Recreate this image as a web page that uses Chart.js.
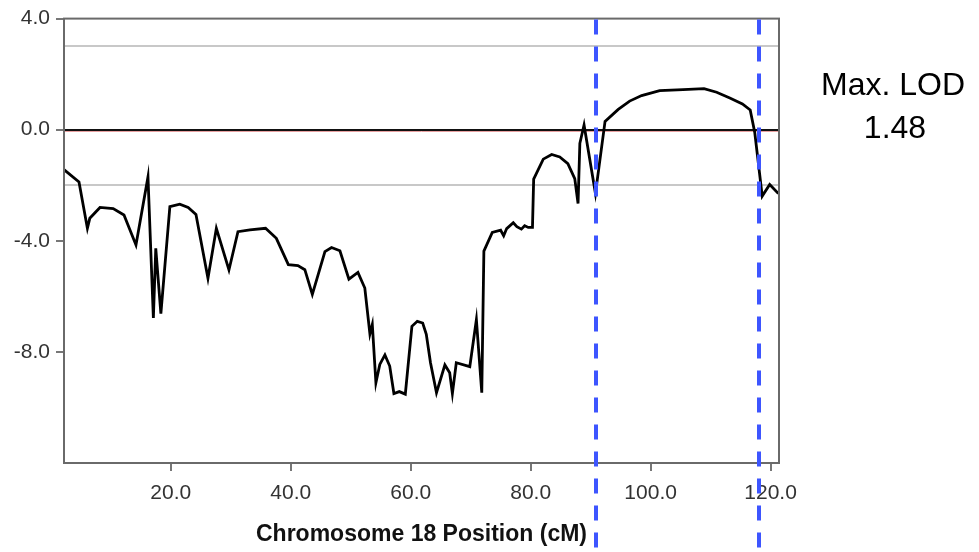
<!DOCTYPE html>
<html>
<head>
<meta charset="utf-8">
<title>Chromosome 18 LOD</title>
<script src="https://cdn.jsdelivr.net/npm/chart.js@4"></script>
<style>
    html, body { margin: 0; padding: 0; background: #fff; }
    #wrap { width: 979px; height: 552px; position: relative; }
</style>
</head>
<body>
<div id="wrap"><canvas id="lodChart"></canvas></div>
<script>
// positions along chromosome 18 (cM) and LOD score at each point
const positions = [
    2.2, 4.7, 6.1, 6.5, 8.2, 10.4, 12.2, 14.2, 16.2, 17.1,
    17.5, 18.35, 19.85, 21.5, 22.9, 24.2, 26.2, 27.6, 29.7, 31.2,
    33.2, 35.8, 37.6, 39.6, 41.2, 42.35, 43.6, 45.7, 46.8, 48.2,
    49.7, 51.2, 52.35, 53.2, 53.6, 54.2, 54.85, 55.7, 56.5, 57.2,
    58.1, 59.1, 60.2, 61.1, 62.0, 62.6, 63.3, 64.3, 65.7, 66.5,
    66.95, 67.6, 69.85, 70.95, 71.85, 72.2, 73.6, 75.0, 75.5, 76.0,
    77.1, 77.7, 78.45, 79.0, 79.6, 80.3, 80.5, 82.1, 83.5, 84.85,
    86.2, 87.35, 87.9, 88.2, 88.9, 90.8, 92.4, 94.6, 96.5, 98.5,
    101.5, 105.4, 108.9, 111.0, 113.2, 115.3, 116.6, 117.35, 118.0, 118.6,
    119.85, 121.3
];
const lodScores = [
    -1.44, -1.88, -3.55, -3.19, -2.80, -2.84, -3.07, -4.15, -1.70, -6.78,
    -4.27, -6.62, -2.77, -2.68, -2.80, -3.05, -5.35, -3.55, -5.05, -3.67,
    -3.61, -3.55, -3.91, -4.86, -4.89, -5.04, -5.93, -4.39, -4.24, -4.36,
    -5.38, -5.14, -5.70, -7.35, -7.01, -9.11, -8.45, -8.11, -8.51, -9.50,
    -9.43, -9.52, -7.08, -6.90, -6.96, -7.37, -8.39, -9.47, -8.47, -8.75,
    -9.50, -8.39, -8.53, -6.84, -9.47, -4.37, -3.70, -3.62, -3.82, -3.56,
    -3.35, -3.49, -3.58, -3.46, -3.52, -3.52, -1.78, -1.06, -0.89, -0.98,
    -1.22, -1.76, -2.66, -0.49, 0.17, -2.30, 0.30, 0.73, 1.03, 1.23,
    1.41, 1.44, 1.48, 1.35, 1.14, 0.93, 0.71, -0.09, -1.28, -2.39,
    -1.97, -2.30
];

const xTickValues = [20, 40, 60, 80, 100, 120];
const yTickValues = [4, 0, -4, -8];
const thresholdLines = [3, -2];
const zeroLine = 0;
const intervalMarkers = [90.9, 118.0];

const FONT = "'Liberation Sans', Arial, sans-serif";

const points = positions.map((p, i) => ({ x: p, y: lodScores[i] }));
const maxLod = Math.max(...lodScores);

const refLinesPlugin = {
    id: 'refLines',
    beforeDatasetsDraw(chart) {
        const { ctx, chartArea, scales } = chart;
        ctx.save();
        ctx.lineWidth = 2;
        ctx.strokeStyle = '#c8c8c8';
        thresholdLines.forEach(v => {
            const y = Math.round(scales.y.getPixelForValue(v));
            ctx.beginPath();
            ctx.moveTo(chartArea.left, y);
            ctx.lineTo(chartArea.right, y);
            ctx.stroke();
        });
        const y0 = Math.round(scales.y.getPixelForValue(zeroLine));
        ctx.strokeStyle = '#e8a0a0';
        ctx.lineWidth = 1;
        ctx.beginPath();
        ctx.moveTo(chartArea.left, y0 + 1.5);
        ctx.lineTo(chartArea.right, y0 + 1.5);
        ctx.stroke();
        ctx.strokeStyle = '#111';
        ctx.lineWidth = 2;
        ctx.beginPath();
        ctx.moveTo(chartArea.left, y0);
        ctx.lineTo(chartArea.right, y0);
        ctx.stroke();
        ctx.restore();
    },
    afterDraw(chart) {
        const { ctx, chartArea, scales } = chart;
        ctx.save();
        // plot box
        ctx.strokeStyle = '#6a6a6a';
        ctx.lineWidth = 2;
        ctx.strokeRect(chartArea.left, chartArea.top, chartArea.right - chartArea.left, chartArea.bottom - chartArea.top);

        // support interval markers, running down past the axis
        ctx.strokeStyle = '#3d55ff';
        ctx.lineWidth = 4;
        ctx.setLineDash([15, 12]);
        intervalMarkers.forEach(v => {
            const x = Math.round(scales.x.getPixelForValue(v));
            ctx.beginPath();
            ctx.moveTo(x, chartArea.top + 1);
            ctx.lineTo(x, chart.height);
            ctx.stroke();
        });
        ctx.setLineDash([]);

        // peak label
        ctx.fillStyle = '#000';
        ctx.font = '32px ' + FONT;
        ctx.textAlign = 'center';
        ctx.textBaseline = 'middle';
        ctx.fillText('Max. LOD', 893, 86);
        ctx.fillText(maxLod.toFixed(2), 895, 129);
        ctx.restore();
    }
};

new Chart(document.getElementById('lodChart'), {
    type: 'line',
    data: {
        datasets: [{
            data: points,
            borderColor: '#000',
            borderWidth: 2.8,
            pointRadius: 0,
            tension: 0,
            fill: false
        }]
    },
    options: {
        responsive: true,
        maintainAspectRatio: false,
        animation: false,
        layout: { padding: { top: 16, right: 200, left: 0, bottom: 0 } },
        plugins: {
            legend: { display: false },
            tooltip: { enabled: false }
        },
        scales: {
            x: {
                type: 'linear',
                min: 2.2,
                max: 121.4,
                afterBuildTicks: scale => { scale.ticks = xTickValues.map(v => ({ value: v })); },
                afterFit: scale => { scale.height = 89; },
                border: { display: false },
                grid: { drawOnChartArea: false, drawTicks: true, tickLength: 8, color: '#777', lineWidth: 2 },
                ticks: {
                    padding: 10,
                    color: '#333',
                    font: { family: FONT, size: 21 },
                    maxRotation: 0,
                    callback: v => Number(v).toFixed(1)
                },
                title: {
                    display: true,
                    text: 'Chromosome 18 Position (cM)',
                    color: '#111',
                    font: { family: FONT, size: 23, weight: 'bold' },
                    padding: { top: 0, bottom: 4 }
                }
            },
            y: {
                min: -12,
                max: 4,
                afterBuildTicks: scale => { scale.ticks = yTickValues.map(v => ({ value: v })); },
                afterFit: scale => { scale.width = 64; },
                border: { display: false },
                grid: { drawOnChartArea: false, drawTicks: true, tickLength: 8, color: '#777', lineWidth: 2 },
                ticks: {
                    padding: 6,
                    color: '#333',
                    font: { family: FONT, size: 21 },
                    callback: v => Number(v).toFixed(1)
                }
            }
        }
    },
    plugins: [refLinesPlugin]
});
</script>
</body>
</html>
